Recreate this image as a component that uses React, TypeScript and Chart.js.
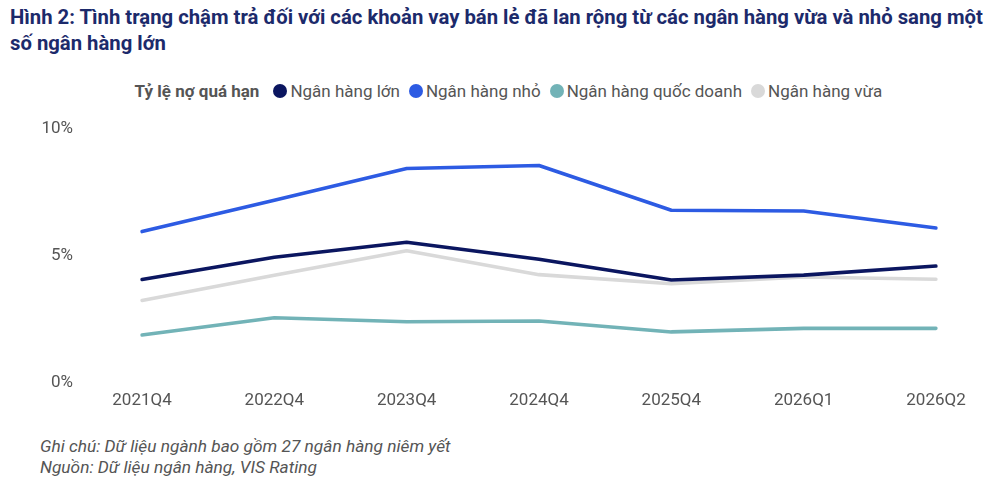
import { useEffect, useRef } from "react";
import { Chart, registerables } from "chart.js";

Chart.register(...registerables);

const quarters = ["2021Q4", "2022Q4", "2023Q4", "2024Q4", "2025Q4", "2026Q1", "2026Q2"];
const largeBanks = [4.07, 4.95, 5.54, 4.87, 4.05, 4.24, 4.6];
const smallBanks = [5.96, 7.2, 8.45, 8.57, 6.8, 6.77, 6.1];
const stateBanks = [1.88, 2.56, 2.4, 2.43, 2.0, 2.14, 2.14];
const midBanks = [3.24, 4.24, 5.2, 4.26, 3.9, 4.17, 4.08];

const seriesNames = ["Ngân hàng lớn", "Ngân hàng nhỏ", "Ngân hàng quốc doanh", "Ngân hàng vừa"];
const seriesColors = ["#0b1660", "#2d5be3", "#72b3b7", "#d9d9d9"];

const FONT = "Roboto, 'Noto Sans', sans-serif";

const App = () => {
  const canvasRef = useRef<HTMLCanvasElement>(null);

  useEffect(() => {
    if (!canvasRef.current) return;
    const ctx = canvasRef.current.getContext("2d");
    if (!ctx) return;

    const values = [largeBanks, smallBanks, stateBanks, midBanks];
    const chart = new Chart(ctx, {
      type: "line",
      data: {
        labels: quarters,
        datasets: values.map((data, i) => ({
          label: seriesNames[i],
          data,
          borderColor: seriesColors[i],
          backgroundColor: seriesColors[i],
          borderWidth: 3.6,
          pointRadius: 0,
          tension: 0,
          borderCapStyle: "round" as const,
          borderJoinStyle: "round" as const,
        })),
      },
      options: {
        responsive: true,
        maintainAspectRatio: false,
        animation: false,
        layout: { padding: { top: 0, right: 64, bottom: 0, left: 0 } },
        plugins: {
          legend: { display: false },
          tooltip: { enabled: false },
        },
        scales: {
          x: {
            offset: false,
            grid: { display: false, drawTicks: false },
            border: { display: false },
            ticks: {
              color: "#555555",
              padding: 8,
              maxRotation: 0,
              font: { family: FONT, size: 17 },
            },
          },
          y: {
            min: 0,
            max: 10,
            // tick marks are hidden; their length only pushes the labels left
            grid: { display: false, drawTicks: true, tickLength: 69, color: "rgba(0,0,0,0)" },
            border: { display: false },
            afterFit: (scale) => {
              scale.width = 142;
            },
            ticks: {
              stepSize: 5,
              color: "#555555",
              padding: 0,
              font: { family: FONT, size: 17 },
              callback: (v) => `${v}%`,
            },
          },
        },
      },
    });

    return () => chart.destroy();
  }, []);

  return (
    <div
      style={{
        position: "fixed",
        left: 0,
        top: 0,
        width: 1000,
        height: 502,
        background: "#ffffff",
        fontFamily: FONT,
      }}
    >
      <div
        style={{
          position: "absolute",
          left: 10,
          top: 4,
          width: 985,
          fontSize: 20.3,
          fontWeight: 700,
          lineHeight: "26px",
          color: "#1c2a6b",
        }}
      >
        Hình 2: Tình trạng chậm trả đối với các khoản vay bán lẻ đã lan rộng từ các ngân hàng vừa và nhỏ sang một số ngân hàng lớn
      </div>

      <div
        style={{
          position: "absolute",
          left: 0,
          width: 1020,
          top: 80,
          display: "flex",
          justifyContent: "center",
          alignItems: "center",
          fontSize: 17,
          lineHeight: "22px",
          color: "#555555",
          gap: 6,
        }}
      >
        <span style={{ fontWeight: 700, marginRight: 8 }}>Tỷ lệ nợ quá hạn</span>
        {seriesNames.map((name, i) => (
          <span key={name} style={{ display: "flex", alignItems: "center", marginRight: 3 }}>
            <span
              style={{
                display: "inline-block",
                width: 14,
                height: 14,
                borderRadius: "50%",
                background: seriesColors[i],
                marginRight: 3,
              }}
            />
            {name}
          </span>
        ))}
      </div>

      <div style={{ position: "absolute", left: 0, top: 119, width: 1000, height: 300 }}>
        <canvas ref={canvasRef}></canvas>
      </div>

      <div
        style={{
          position: "absolute",
          left: 40,
          top: 436,
          fontSize: 17.3,
          fontStyle: "italic",
          lineHeight: "21px",
          color: "#555555",
        }}
      >
        <div>Ghi chú: Dữ liệu ngành bao gồm 27 ngân hàng niêm yết</div>
        <div>Nguồn: Dữ liệu ngân hàng, VIS Rating</div>
      </div>
    </div>
  );
};

export default App;
